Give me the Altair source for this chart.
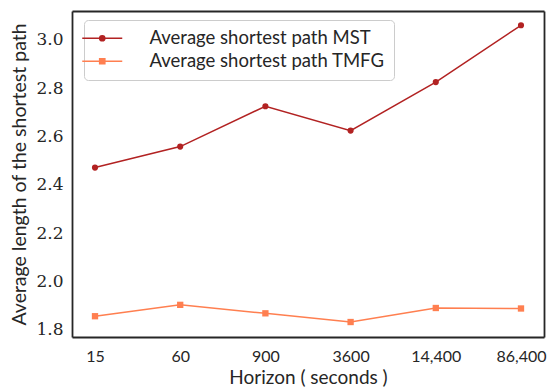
import altair as alt
import pandas as pd

horizons = ["15", "60", "900", "3600", "14,400", "86,400"]
mst = [2.472, 2.559, 2.726, 2.625, 2.826, 3.061]
tmfg = [1.857, 1.904, 1.869, 1.833, 1.891, 1.889]
series_names = ["Average shortest path MST", "Average shortest path TMFG"]
colors = ["#b22222", "#ff7f50"]

rows = []
for h, v in zip(horizons, mst):
    rows.append({"Horizon": h, "value": v, "series": series_names[0]})
for h, v in zip(horizons, tmfg):
    rows.append({"Horizon": h, "value": v, "series": series_names[1]})
df = pd.DataFrame(rows)

TEXT = "#262626"
FRAME = "#262626"
FW = 1.8
SANS = "Lato"
SERIF = "DejaVu Serif"

# legend glyphs: line segment + marker (nested outlines so the stroke fills the marker)
circle_path = (
    "M-5,0H-0.65M0.65,0H5"
    "M-0.65,0A0.65,0.65 0 1,0 0.65,0A0.65,0.65 0 1,0 -0.65,0Z"
    "M-0.3,0A0.3,0.3 0 1,0 0.3,0A0.3,0.3 0 1,0 -0.3,0Z"
)
square_path = (
    "M-5,0H-0.65M0.65,0H5"
    "M-0.65,-0.65H0.65V0.65H-0.65Z"
    "M-0.3,-0.3H0.3V0.3H-0.3Z"
    "M-0.05,-0.05H0.05V0.05H-0.05Z"
)

color_scale = alt.Scale(domain=series_names, range=colors)
x_scale = alt.Scale(type="point", padding=0.27)
y_scale = alt.Scale(domain=[1.771, 3.12], nice=False, zero=False)

x_enc = alt.X(
    "Horizon:N",
    sort=horizons,
    scale=x_scale,
    axis=alt.Axis(
        title="Horizon ( seconds )",
        labelAngle=0,
        labelFont=SANS,
        labelFontSize=16,
        labelColor=TEXT,
        labelPadding=11,
        ticks=False,
        domain=True,
        domainColor=FRAME,
        domainWidth=FW,
        domainOpacity=1,
        grid=False,
        titleFont=SANS,
        titleFontSize=19,
        titleFontWeight="normal",
        titleColor=TEXT,
        titlePadding=4,
    ),
)
y_enc = alt.Y(
    "value:Q",
    scale=y_scale,
    axis=alt.Axis(
        title="Average length of the shortest path",
        values=[1.8, 2.0, 2.2, 2.4, 2.6, 2.8, 3.0],
        format=".1f",
        labelFont=SERIF,
        labelFontSize=17,
        labelColor=TEXT,
        labelPadding=9,
        ticks=False,
        domain=True,
        domainColor=FRAME,
        domainWidth=FW,
        domainOpacity=1,
        grid=False,
        titleFont=SANS,
        titleFontSize=19.5,
        titleFontWeight="normal",
        titleColor=TEXT,
        titlePadding=6,
    ),
)

legend = alt.Legend(
    title=None,
    orient="none",
    legendX=12,
    legendY=9,
    labelFont=SANS,
    labelFontSize=18.5,
    labelColor=TEXT,
    labelLimit=500,
    labelOffset=38,
    symbolSize=64,
    symbolStrokeWidth=1.5,
    symbolOpacity=1,
    rowPadding=4,
    padding=9,
    strokeColor="#cccccc",
    fillColor="white",
    cornerRadius=4,
)

base = alt.Chart(df)

lines = base.mark_line(strokeWidth=1.5).encode(
    x=x_enc,
    y=y_enc,
    color=alt.Color("series:N", scale=color_scale, legend=legend),
)

mst_points = base.transform_filter(
    alt.datum.series == series_names[0]
).mark_point(filled=True, opacity=1, size=38, shape="circle").encode(
    x=x_enc,
    y=y_enc,
    color=alt.Color("series:N", scale=color_scale, legend=legend),
)

tmfg_points = base.transform_filter(
    alt.datum.series == series_names[1]
).mark_point(filled=True, opacity=1, size=40, shape="square").encode(
    x=x_enc,
    y=y_enc,
    color=alt.Color("series:N", scale=color_scale, legend=legend),
)

legend_layer = base.mark_point(filled=False, opacity=0, strokeWidth=1.5).encode(
    x=x_enc,
    y=y_enc,
    color=alt.Color("series:N", scale=color_scale, legend=legend),
    shape=alt.Shape(
        "series:N",
        scale=alt.Scale(domain=series_names, range=[circle_path, square_path]),
        legend=legend,
    ),
)

main = alt.layer(lines, mst_points, tmfg_points, legend_layer)

# top and right frame edges drawn as extra axis domains
frame = base.mark_point(opacity=0).encode(
    x=alt.X(
        "Horizon:N",
        sort=horizons,
        scale=x_scale,
        axis=alt.Axis(orient="top", labels=False, ticks=False, title=None,
                      grid=False, domainColor=FRAME, domainWidth=FW, domainOpacity=1),
    ),
    y=alt.Y(
        "value:Q",
        scale=y_scale,
        axis=alt.Axis(orient="right", labels=False, ticks=False, title=None,
                      grid=False, domainColor=FRAME, domainWidth=FW, domainOpacity=1),
    ),
)

chart = (
    alt.layer(main, frame)
    .resolve_axis(x="independent", y="independent")
    .properties(
        width=472,
        height=326,
        background="white",
        autosize=alt.AutoSizeParams(type="none"),
        padding={"left": 72, "top": 11, "right": 5, "bottom": 55},
    )
    .configure_view(stroke=None)
)

chart.save("out.html", embed_options={"renderer": "svg", "actions": False})
